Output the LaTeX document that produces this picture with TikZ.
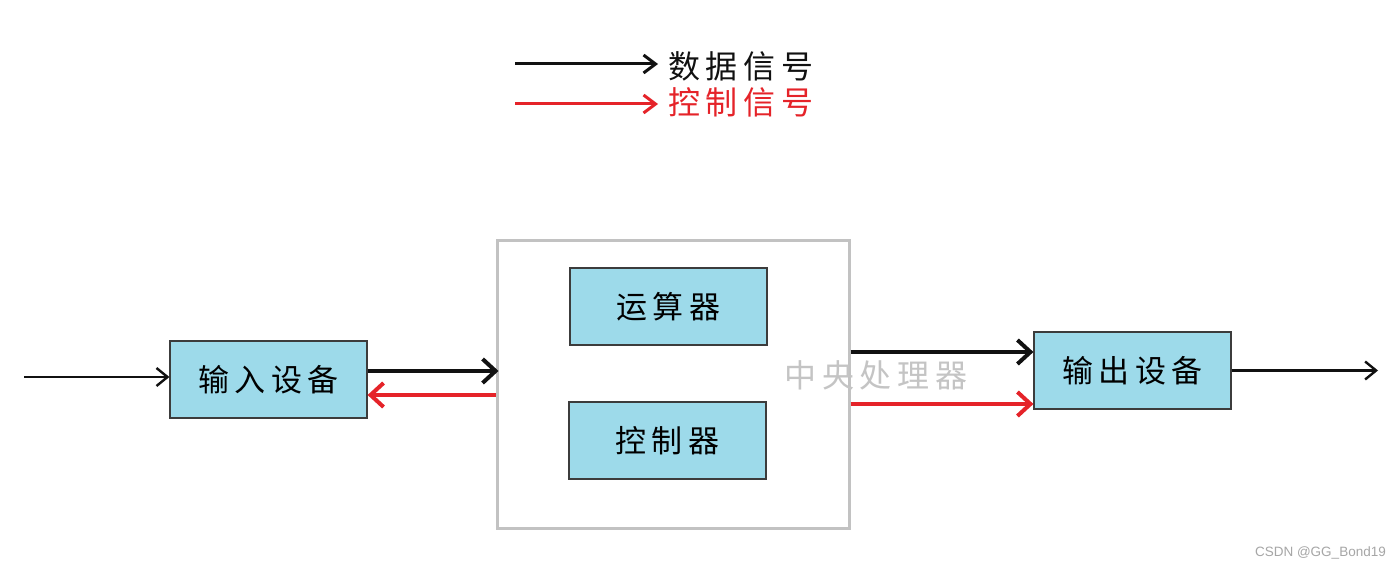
\documentclass[tikz,border=0pt]{standalone}
\usepackage{fontspec}
\newfontfamily\cjk[LetterSpace=18]{Noto Sans CJK SC}
\newfontfamily\wmfont{Liberation Sans}
\usetikzlibrary{arrows.meta}
\definecolor{ink}{HTML}{111111}
\definecolor{sigred}{HTML}{E52329}
\definecolor{boxfill}{HTML}{9DDAEA}
\definecolor{boxline}{HTML}{3C3C3C}
\definecolor{cpuline}{HTML}{C2C2C2}
\definecolor{cputext}{HTML}{C4C4C4}
\definecolor{wmgray}{HTML}{A6A6A6}

\begin{document}
\begin{tikzpicture}[x=1pt,y=-1pt,
  dev/.style={draw=boxline,fill=boxfill,line width=1.2pt,minimum width=197pt,minimum height=77pt,inner sep=0pt,font=\cjk\fontsize{31}{31}\selectfont},
  thinsig/.style={ink,line width=2.4pt,-{Straight Barb[length=11pt,width=18pt]}},
  datasig/.style={ink,line width=4pt,-{Straight Barb[length=13pt,width=24pt]}},
  ctrlsig/.style={sigred,line width=4pt,-{Straight Barb[length=13pt,width=24pt]}}]
  \useasboundingbox[fill=white] (0,0) rectangle (1400,567);
  % legend
  \coordinate (kd) at (515,64);
  \coordinate (kc) at (515,104);
  \node[anchor=west,inner sep=0pt,font=\cjk\fontsize{32}{32}\selectfont,text=ink] (kdata) at (668,66) {数据信号};
  \node[anchor=west,inner sep=0pt,font=\cjk\fontsize{32}{32}\selectfont,text=sigred] (kctrl) at (668,102) {控制信号};
  \draw[ink,line width=3pt,-{Straight Barb[length=12pt,width=18pt]}] (kd) -- ([xshift=-10pt]kd -| kdata.west);
  \draw[sigred,line width=3pt,-{Straight Barb[length=12pt,width=18pt]}] (kc) -- ([xshift=-10pt]kc -| kctrl.west);
  % cpu
  \node[draw=cpuline,line width=3pt,minimum width=352pt,minimum height=288pt,inner sep=0pt] (cpu) at (673,384) {};
  \node[dev] (alu) at (668.5,306.5) {运算器};
  \node[dev] (ctl) at (667.5,440.5) {控制器};
  \node[font=\cjk\fontsize{32}{32}\selectfont,text=cputext,inner sep=0pt] (cpulbl) at (876,375) {中央处理器};
  % devices
  \node[dev] (in) at (268.5,379.5) {输入设备};
  \node[dev] (out) at (1132.5,370.5) {输出设备};
  \coordinate (src) at (24,377);
  \coordinate (sink) at (1378,370.5);
  \draw[thinsig] (src) -- (src -| in.west);
  \draw[datasig,shorten >=-3pt] ([yshift=8.5pt]in.east) -- ([yshift=8.5pt]in.east -| cpu.west);
  \draw[ctrlsig] ([yshift=-15.5pt]in.east -| cpu.west) -- ([yshift=-15.5pt]in.east);
  \draw[datasig] ([yshift=18.5pt]out.west -| cpu.east) -- ([yshift=18.5pt]out.west);
  \draw[ctrlsig] ([yshift=-33.5pt]out.west -| cpu.east) -- ([yshift=-33.5pt]out.west);
  \draw[thinsig] (out.east) -- (sink);
  % watermark
  \node[anchor=east,inner sep=0pt,font=\wmfont\fontsize{13.5}{13.5}\selectfont,text=wmgray] (wm) at (1386,553) {CSDN @GG\_Bond19};
\end{tikzpicture}
\end{document}
